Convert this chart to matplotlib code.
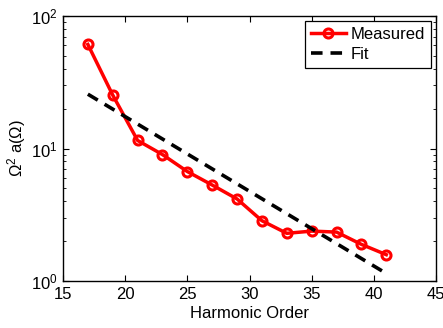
import matplotlib
matplotlib.use("Agg")
import matplotlib.pyplot as plt
import matplotlib.ticker as ticker

plt.rcParams.update({
    "font.family": "Liberation Sans",
    "font.size": 12,
    "mathtext.fontset": "custom",
    "mathtext.rm": "Liberation Sans",
    "mathtext.it": "Liberation Sans",
    "mathtext.bf": "Liberation Sans",
    "xtick.direction": "in",
    "ytick.direction": "in",
    "xtick.top": True,
    "ytick.right": True,
})

# Dati
harmonics = [17, 19, 21, 23, 25, 27, 29, 31, 33, 35, 37, 39, 41]
measured = [61, 25.3, 11.5, 9.0, 6.7, 5.3, 4.16, 2.85, 2.29, 2.38, 2.34, 1.89, 1.58]
fit_x = [17, 41]
fit_y = [25.7, 1.14]

fig = plt.figure(figsize=(4.43, 3.28), dpi=100)
ax = fig.add_axes([63 / 443, 1 - 281 / 328, 373 / 443, 265 / 328])

ax.plot(harmonics, measured, color="red", linewidth=2.5, marker="o",
        markersize=6.5, markerfacecolor="none", markeredgewidth=2.2,
        label="Measured")
ax.plot(fit_x, fit_y, color="black", linewidth=2.6, linestyle=(0, (3.2, 2.2)),
        label="Fit")

ax.set_yscale("log")
ax.set_xlim(15, 45)
ax.set_ylim(1, 100)
ax.set_xticks([15, 20, 25, 30, 35, 40, 45])
ax.yaxis.set_major_locator(ticker.LogLocator(base=10))
ax.tick_params(which="major", length=4, width=0.8, pad=4)
ax.tick_params(which="minor", length=2.5, width=0.6)
for s in ax.spines.values():
    s.set_linewidth(1.0)

ax.set_xlabel("Harmonic Order", labelpad=3)
ax.set_ylabel(r"$\Omega^2$ a($\Omega$)", labelpad=2)

leg = ax.legend(loc="upper right", fancybox=False, edgecolor="black",
                framealpha=1, handlelength=2.1, borderpad=0.35,
                labelspacing=0.3, handletextpad=0.3, borderaxespad=0.3)
leg.get_frame().set_linewidth(0.9)

fig.savefig("out.png", dpi=100)
